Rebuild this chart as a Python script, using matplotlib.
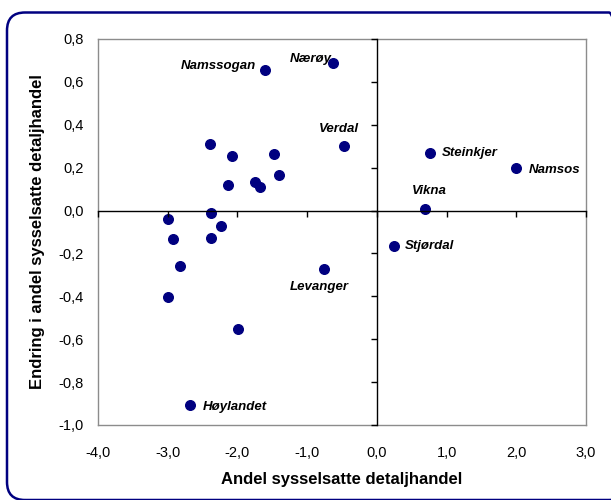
import matplotlib

matplotlib.use("Agg")
import matplotlib.pyplot as plt
from matplotlib.patches import FancyBboxPatch
from matplotlib.ticker import FuncFormatter

plt.rcParams["font.family"] = ["Liberation Sans", "DejaVu Sans"]
plt.rcParams["axes.unicode_minus"] = False

# Kommuner: andel sysselsatte i detaljhandel vs endring i andel
x_vals = [-1.61, -0.63, -0.47, 0.76, 2.00, 0.69, 0.24, -0.76, -2.68,
          -2.39, -2.08, -1.47, -1.41, -2.14, -1.75, -1.68,
          -2.99, -2.375, -2.24, -2.92, -2.38, -2.82, -2.99, -1.985]
y_vals = [0.654, 0.689, 0.301, 0.267, 0.197, 0.007, -0.164, -0.273, -0.909,
          0.310, 0.256, 0.262, 0.166, 0.117, 0.131, 0.111,
          -0.038, -0.012, -0.074, -0.131, -0.127, -0.257, -0.402, -0.551]
names = ["Namssogan", "Nærøy", "Verdal", "Steinkjer", "Namsos", "Vikna",
         "Stjørdal", "Levanger", "Høylandet"]
x_ticks = [-4.0, -3.0, -2.0, -1.0, 0.0, 1.0, 2.0, 3.0]
y_ticks = [-1.0, -0.8, -0.6, -0.4, -0.2, 0.0, 0.2, 0.4, 0.6, 0.8]

# label offsets in points (dx, dy, ha, va)
label_pos = {
    "Namssogan": (-6, 3, "right", "center"),
    "Nærøy": (-1, 3, "right", "center"),
    "Verdal": (-4, 12, "center", "center"),
    "Steinkjer": (9, 0, "left", "center"),
    "Namsos": (9, -1, "left", "center"),
    "Vikna": (3, 13, "center", "center"),
    "Stjørdal": (8, 0, "left", "center"),
    "Levanger": (-3, -13, "center", "center"),
    "Høylandet": (9, -1, "left", "center"),
}

NAVY = "#000080"

fig = plt.figure(figsize=(6.11, 5.0), dpi=100, facecolor="white")
W, H = 611, 500

# rounded navy frame around the chart (inches)
frame = FancyBboxPatch((0.07, 0.0), 6.2, 4.875,
                       boxstyle="round,pad=0,rounding_size=0.18",
                       transform=fig.dpi_scale_trans, fill=False,
                       edgecolor=NAVY, linewidth=1.8)
fig.patches.append(frame)

rect = [98 / W, 1 - 425 / H, (586 - 98) / W, (425 - 39) / H]
ax = fig.add_axes(rect)
ax.set_xlim(-4, 3)
ax.set_ylim(-1, 0.8)
for sp in ax.spines.values():
    sp.set_color("#8c8c8c")
    sp.set_linewidth(1.0)
ax.set_xticks(x_ticks)
ax.set_yticks(y_ticks)
fmt = FuncFormatter(lambda v, p: f"{v:.1f}".replace(".", ",").replace("-0,0", "0,0"))
ax.xaxis.set_major_formatter(fmt)
ax.yaxis.set_major_formatter(fmt)
ax.tick_params(axis="both", length=0, labelsize=10.5, colors="black")
ax.tick_params(axis="x", pad=15)
ax.tick_params(axis="y", pad=10)
ax.set_xlabel("Andel sysselsatte detaljhandel", fontsize=12, fontweight="bold",
              labelpad=9)
ax.set_ylabel("Endring i andel sysselsatte detaljhandel", fontsize=12,
              fontweight="bold", labelpad=10)

# axes crossing at zero with tick marks (Excel style)
ax0 = fig.add_axes(rect, sharex=ax, sharey=ax, facecolor="none")
ax0.spines["left"].set_position(("data", 0))
ax0.spines["bottom"].set_position(("data", 0))
ax0.spines["top"].set_visible(False)
ax0.spines["right"].set_visible(False)
for s in ("left", "bottom"):
    ax0.spines[s].set_color("black")
    ax0.spines[s].set_linewidth(1.0)
ax0.tick_params(axis="both", direction="out", length=4, width=1,
                labelleft=False, labelbottom=False)

ax.scatter(x_vals, y_vals, s=48, color=NAVY, zorder=3, clip_on=False)

for i, name in enumerate(names):
    dx, dy, ha, va = label_pos[name]
    ax.annotate(name, (x_vals[i], y_vals[i]), xytext=(dx, dy),
                textcoords="offset points", ha=ha, va=va, fontsize=9.5,
                fontweight="bold", fontstyle="italic", zorder=4)

fig.savefig("out.png", dpi=100, facecolor="white")
